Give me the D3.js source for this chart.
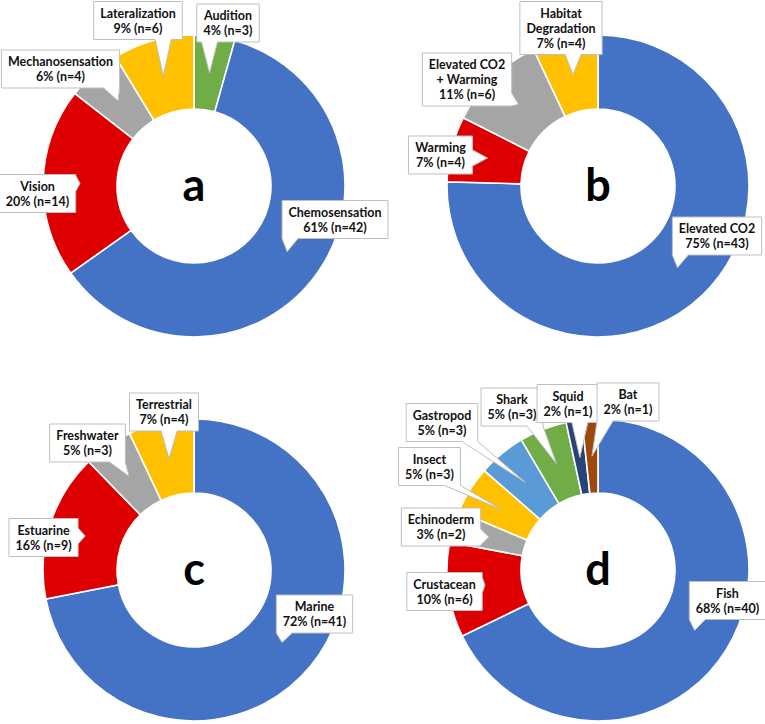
<!DOCTYPE html>
<html><head><meta charset="utf-8">
<script src="https://cdn.jsdelivr.net/npm/d3@7"></script>
<style>body{margin:0;background:#fff}</style>
</head><body>
<svg id="chart" width="765" height="724"></svg>
<script>
// ---- data ----
const panelLetters = ["a", "b", "c", "d"];

const categoriesA = ["Audition", "Chemosensation", "Vision", "Mechanosensation", "Lateralization"];
const countsA = [3, 42, 14, 4, 6];
const percentsA = [4, 61, 20, 6, 9];

const categoriesB = ["Elevated CO2", "Warming", "Elevated CO2\n+ Warming", "Habitat\nDegradation"];
const countsB = [43, 4, 6, 4];
const percentsB = [75, 7, 11, 7];

const categoriesC = ["Marine", "Estuarine", "Freshwater", "Terrestrial"];
const countsC = [41, 9, 3, 4];
const percentsC = [72, 16, 5, 7];

const categoriesD = ["Fish", "Crustacean", "Echinoderm", "Insect", "Gastropod", "Shark", "Squid", "Bat"];
const countsD = [40, 6, 2, 3, 3, 3, 1, 1];
const percentsD = [68, 10, 3, 5, 5, 5, 2, 2];

// ---- styles ----
const colorsA = ["#70AD47", "#4472C4", "#DE0000", "#A5A5A5", "#FFC000"];
const colorsB = ["#4472C4", "#DE0000", "#A5A5A5", "#FFC000"];
const colorsC = ["#4472C4", "#DE0000", "#A5A5A5", "#FFC000"];
const colorsD = ["#4472C4", "#DE0000", "#A5A5A5", "#FFC000", "#5B9BD5", "#70AD47", "#264478", "#9E480E"];

// ---- layout ----
const centers = [[194, 186], [598, 186], [194, 570], [598, 570]];
const outerR = 151, innerR = 77;
// callout box centre offsets relative to the donut centre
const offsetsA = [[34, -163], [141, 33.5], [-156.5, 7.5], [-133.5, -117], [-56, -165.5]];
const offsetsB = [[119, 50], [-157.5, -31], [-131, -106.5], [-37, -158]];
const offsetsC = [[120.5, 44], [-150.5, -32.5], [-106.5, -127], [-30, -158]];
const offsetsD = [[129.5, 30.5], [-153.5, 21.5], [-157, -43], [-168.5, -103.5], [-156, -147.5], [-86, -163], [-30, -166.5], [30, -168]];

const panels = [
  {cats: categoriesA, counts: countsA, pcts: percentsA, colors: colorsA, offs: offsetsA},
  {cats: categoriesB, counts: countsB, pcts: percentsB, colors: colorsB, offs: offsetsB},
  {cats: categoriesC, counts: countsC, pcts: percentsC, colors: colorsC, offs: offsetsC},
  {cats: categoriesD, counts: countsD, pcts: percentsD, colors: colorsD, offs: offsetsD}
];

const svg = d3.select("#chart");
const font = "Lato, 'Open Sans', sans-serif";
const lh = 15, fs = 12.5;

const pie = d3.pie().sort(null).value(d => d.n).startAngle(0).endAngle(2 * Math.PI);
const arc = d3.arc().innerRadius(innerR).outerRadius(outerR);
const mid = d3.arc().innerRadius((innerR + outerR) / 2).outerRadius((innerR + outerR) / 2);

function calloutPath(x0, y0, x1, y1, tip) {
  const w = 16;
  const [tx, ty] = tip;
  if (ty > y1) {
    const bx = Math.max(x0 + w / 2, Math.min(x1 - w / 2, tx));
    return `M${x0},${y0}L${x1},${y0}L${x1},${y1}L${bx + w / 2},${y1}L${tx},${ty}L${bx - w / 2},${y1}L${x0},${y1}Z`;
  } else if (ty < y0) {
    const bx = Math.max(x0 + w / 2, Math.min(x1 - w / 2, tx));
    return `M${x0},${y0}L${bx - w / 2},${y0}L${tx},${ty}L${bx + w / 2},${y0}L${x1},${y0}L${x1},${y1}L${x0},${y1}Z`;
  } else if (tx > x1) {
    const by = Math.max(y0 + 5, Math.min(y1 - 5, ty));
    const a = Math.max(y0, by - w / 2), b = Math.min(y1, by + w / 2);
    return `M${x0},${y0}L${x1},${y0}L${x1},${a}L${tx},${ty}L${x1},${b}L${x1},${y1}L${x0},${y1}Z`;
  } else {
    const by = Math.max(y0 + 5, Math.min(y1 - 5, ty));
    const a = Math.max(y0, by - w / 2), b = Math.min(y1, by + w / 2);
    return `M${x0},${y0}L${x1},${y0}L${x1},${y1}L${x0},${y1}L${x0},${b}L${tx},${ty}L${x0},${a}Z`;
  }
}

panels.forEach((p, pi) => {
  const [cx, cy] = centers[pi];
  const rows = p.cats.map((c, i) => ({cat: c, n: p.counts[i], pct: p.pcts[i], color: p.colors[i], off: p.offs[i]}));
  const g = svg.append("g").attr("transform", `translate(${cx},${cy})`);
  const arcs = pie(rows);

  g.selectAll("path.slice").data(arcs).join("path")
    .attr("class", "slice")
    .attr("d", arc)
    .attr("fill", d => d.data.color)
    .attr("stroke", "#fff")
    .attr("stroke-width", 1.6)
    .attr("stroke-linejoin", "miter");

  g.append("text")
    .attr("x", 0).attr("y", 15)
    .attr("text-anchor", "middle")
    .attr("font-family", font)
    .attr("font-weight", 700)
    .attr("font-size", 45)
    .attr("fill", "#000")
    .text(panelLetters[pi]);

  arcs.forEach(d => {
    const lines = d.data.cat.split("\n").concat([`${d.data.pct}% (n=${d.data.n})`]);
    const [ox, oy] = d.data.off;
    const cg = g.append("g");
    const path = cg.append("path")
      .attr("fill", "#fff").attr("stroke", "#BFBFBF").attr("stroke-width", 1);
    const t = cg.append("text")
      .attr("text-anchor", "middle")
      .attr("font-family", font)
      .attr("font-weight", 700)
      .attr("font-size", fs)
      .attr("fill", "#111");
    lines.forEach((l, i) => {
      t.append("tspan").attr("x", ox)
        .attr("y", oy - (lines.length - 1) * lh / 2 + i * lh + 4.5)
        .text(l);
    });
    const tw = t.node().getBBox().width;
    const bw = tw + 13, bh = lines.length * lh + 8;
    const x0 = ox - bw / 2, x1 = ox + bw / 2, y0 = oy - bh / 2, y1 = oy + bh / 2;
    path.attr("d", calloutPath(x0, y0, x1, y1, mid.centroid(d)));
  });
});
</script>
</body></html>
